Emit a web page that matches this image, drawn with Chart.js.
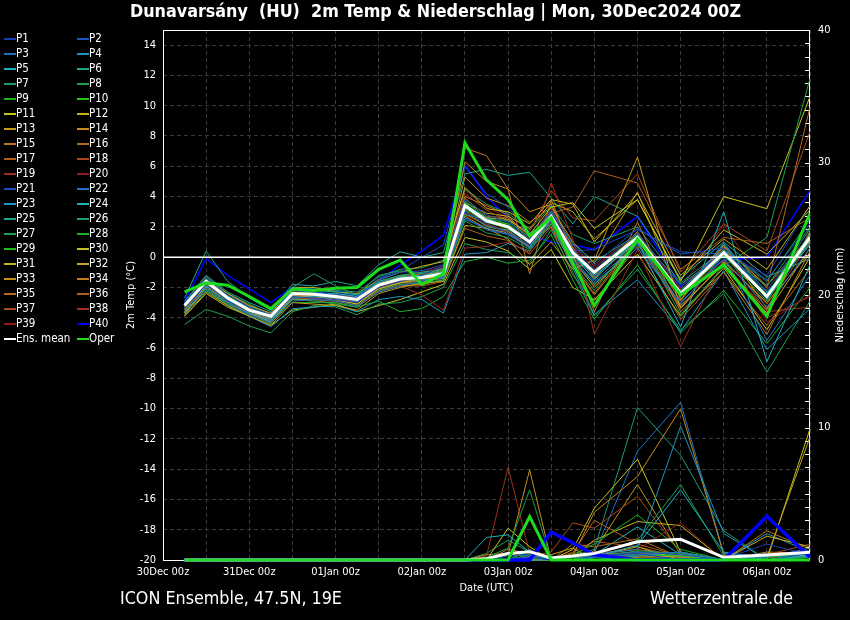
<!DOCTYPE html>
<html>
<head>
<meta charset="utf-8">
<style>
  html, body { margin: 0; background: #000; }
  canvas { display: block; }
</style>
<script src="https://cdn.jsdelivr.net/npm/chart.js@4.4.1/dist/chart.umd.min.js"></script>
</head>
<body>
<canvas id="chart" width="850" height="620"></canvas>
<script>
// forecast hours after 30Dec2024 00z
const hours = [6,12,18,24,30,36,42,48,54,60,66,72,78,84,90,96,102,108,114,120,132,144,156,168,180];
const dayLabels = ['30Dec 00z','31Dec 00z','01Jan 00z','02Jan 00z','03Jan 00z','04Jan 00z','05Jan 00z','06Jan 00z'];

// 2m temperature (°C), P1..P40
const memberTemp = [
  [-3.4,-1.8,-2.9,-3.6,-4.0,-2.6,-2.7,-2.8,-3.0,-2.0,-1.6,-1.2,-0.6, 3.0,2.2,1.6,0.8,2.9,0.5,-0.8,1.6,-2.0,0.4,-2.2,1.8],
  [-3.0,-1.4,-2.5,-3.3,-3.8,-2.2,-2.3,-2.5,-2.7,-1.5,-1.0,-0.9,-0.5, 3.8,2.8,2.3,1.2,3.1,0.8,-0.5,1.9,0.2,0.6,-1.5,2.2],
  [-3.6,-2.0,-3.0,-3.8,-4.3,-2.9,-2.8,-2.9,-3.2,-2.3,-1.9,-1.6,-1.3, 2.6,1.8,1.5,0.6,2.4,-0.2,-1.6,0.9,-3.0,-0.1,-3.3,0.6],
  [-3.3,-1.9,-2.8,-3.7,-4.2,-2.7,-2.6,-2.7,-2.9,-1.9,-1.5,-1.5,-1.4, 3.3,2.3,2.1,1.1,2.8,0.3,-1.3,1.2,-2.6,0.9,-2.8,1.0],
  [-3.1,-1.5,-2.6,-3.4,-4.1,-2.5,-2.4,-2.4,-2.6,-1.7,-1.3,-1.2,-1.0, 3.5,2.6,1.9,0.9,2.6,0.1,-1.2,1.0,-4.6,3.0,-6.9,-0.5],
  [-2.7,0.4,-1.6,-2.7,-3.5,-2.0,-2.2,-2.3,-2.5,-1.6,-1.2,-1.0,-0.8, 3.1,2.0,1.8,0.7,2.5,0.0,-1.8,0.8,-2.2,0.5,-2.4,1.5],
  [-3.8,-2.2,-3.1,-3.8,-4.4,-2.0,-1.1,-1.9,-2.5,-1.2,-0.9,-1.1,-0.9, 2.8,2.5,2.4,1.3,3.0,0.9,-0.3,1.5,-1.8,0.2,-1.9,2.0],
  [-3.5,-2.1,-3.0,-3.5,-4.0,-2.8,-2.9,-3.1,-3.3,-2.2,-1.8,-1.7,-1.5, 2.4,1.6,1.3,0.5,2.2,-0.4,-2.2,1.4,-3.8,-0.6,1.3,11.8],
  [-3.0,-1.6,-2.6,-3.3,-3.9,-2.3,-2.5,-2.6,-2.9,-1.8,-1.4,-1.3,-1.2, 3.6,2.4,2.2,1.0,2.7,0.4,-1.0,1.3,-2.4,0.3,-2.7,1.2],
  [-3.2,-1.7,-2.7,-3.5,-4.0,-2.4,-2.3,-2.7,-2.8,-1.9,-1.5,-1.4,-1.1, 3.2,2.3,1.9,1.0,2.6,0.2,-1.1,1.2,-2.6,0.1,-2.9,1.1],
  [-3.7,-1.9,-2.9,-3.6,-4.3,-2.6,-2.6,-2.8,-3.1,-2.1,-1.7,-1.4,-1.3, 3.4,2.6,2.5,1.5,3.3,3.6,1.9,3.8,-1.6,4.0,3.2,10.6],
  [-3.3,-1.5,-2.4,-3.2,-3.7,-2.0,-2.0,-2.3,-2.4,-1.5,-1.0,-0.6,-0.3, 4.6,3.2,3.0,2.2,3.8,3.5,1.0,4.2,-1.2,1.2,-0.8,3.4],
  [-3.9,-2.3,-3.2,-3.9,-4.5,-3.0,-3.1,-3.2,-3.5,-2.4,-2.0,-1.7,-1.6, 2.1,1.9,1.2,-0.5,1.0,-0.8,-0.2,6.6,-3.4,-0.3,-3.0,0.3],
  [-3.5,-1.7,-2.8,-3.6,-4.1,-2.4,-2.5,-2.7,-2.9,-1.8,-1.5,-1.3,-0.9, 6.3,5.0,4.5,3.0,3.5,0.6,-1.4,1.7,-2.9,0.8,-3.4,1.6],
  [-3.8,-2.0,-3.0,-3.7,-4.4,-2.7,-2.7,-2.8,-3.1,-2.0,-1.6,-1.5,-1.2, 7.2,6.7,4.5,-1.1,3.8,0.2,-3.6,2.3,-3.6,-1.0,-5.1,0.4],
  [-3.4,-1.8,-2.7,-3.4,-4.0,-2.5,-2.6,-2.6,-2.8,-2.0,-1.7,-1.6,-1.4, 2.9,2.1,1.7,0.6,2.3,-0.6,-2.5,1.1,-2.2,0.7,-2.0,9.9],
  [-3.6,-1.9,-2.9,-3.7,-4.2,-2.6,-2.5,-2.5,-2.7,-1.9,-1.4,-1.3,-1.0, 3.9,2.7,2.6,1.4,2.9,3.3,5.7,4.9,-0.8,1.3,0.9,2.6],
  [-3.2,-1.4,-2.5,-3.3,-3.8,-2.3,-2.4,-2.5,-2.7,-1.7,-1.3,-1.1,-0.7, 4.2,3.1,2.4,1.7,4.4,2.6,2.4,5.5,-1.0,2.2,0.4,8.3],
  [-3.5,-1.7,-2.8,-3.5,-4.1,-2.6,-2.8,-2.9,-3.0,-2.2,-1.9,-2.5,-3.5, 0.6,0.7,1.0,0.3,4.9,1.2,-5.1,0.5,-5.9,-0.2,-4.0,-2.6],
  [-3.3,-1.6,-2.6,-3.6,-4.0,-2.4,-2.6,-2.7,-2.8,-2.0,-1.6,-1.4,-1.2, 3.0,2.4,1.8,1.2,3.2,0.7,-0.6,1.6,-2.0,0.6,-4.3,-2.5],
  [-3.1,-1.5,-2.5,-3.3,-3.7,-2.2,-2.3,-2.4,-2.6,-1.4,-0.9,0.0,0.8, 6.0,4.2,3.3,1.6,2.4,0.4,0.5,1.8,0.35,0.2,-1.2,3.4],
  [-3.4,-1.9,-2.8,-3.6,-4.2,-2.7,-2.7,-2.8,-3.0,-2.1,-1.7,-1.6,-1.3, 2.5,1.9,1.5,0.7,2.5,-0.3,-1.7,0.6,-3.1,0.1,-5.5,-1.2],
  [-3.6,-2.2,-3.2,-3.9,-4.6,-3.4,-3.3,-3.2,-3.6,-2.8,-2.6,-2.8,-3.7, 0.2,0.3,0.9,0.4,2.2,-0.7,-3.8,-1.5,-4.9,-0.9,-6.1,-3.4],
  [-3.2,-1.6,-2.7,-3.5,-3.9,-2.5,-2.4,-2.6,-2.9,-1.9,-1.5,-1.3,-1.0, 3.3,2.5,2.0,1.0,2.9,0.2,-1.5,1.4,-2.5,0.9,-2.3,0.8],
  [-2.9,-1.2,-2.3,-3.0,-3.6,-1.8,-1.9,-1.6,-1.9,-0.5,0.35,0.0,0.3, 5.5,5.8,5.4,5.6,3.9,2.2,4.0,2.7,-1.4,1.0,-1.3,-0.1],
  [-3.0,-1.3,-2.4,-3.1,-3.8,-2.1,-2.1,-2.2,-2.3,-1.3,-0.8,-0.7,-0.2, 4.5,3.5,2.9,1.8,3.4,1.5,0.9,2.0,-1.7,0.5,-1.6,2.5],
  [-4.45,-3.45,-3.9,-4.55,-5.0,-3.6,-3.2,-3.3,-3.8,-3.1,-3.0,-2.6,-2.0, 0.9,0.5,0.3,-0.4,1.8,-1.0,-3.9,-0.8,-4.8,-2.4,-7.6,-2.9],
  [-3.7,-2.0,-3.1,-3.8,-4.3,-3.0,-3.0,-3.0,-3.3,-2.9,-3.6,-3.4,-2.6, -0.3,0.0,-0.4,-0.2,1.5,-1.5,-4.1,-0.5,-5.0,-2.2,-5.7,-2.0],
  [-3.1,-1.5,-2.6,-3.4,-3.9,-2.3,-2.4,-2.5,-2.7,-1.6,-1.2,-1.2,-1.0, 3.7,2.6,2.2,1.1,2.8,0.5,-0.9,1.5,-2.3,0.4,-2.5,1.9],
  [-3.9,-2.4,-3.3,-3.9,-4.5,-3.5,-3.3,-3.1,-3.6,-3.2,-2.8,-2.3,-1.8, 1.3,1.0,0.4,-0.8,0.5,-2.0,-2.8,0.2,-3.9,-0.7,-4.8,0.0],
  [-3.4,-1.8,-2.8,-3.5,-4.0,-2.5,-2.4,-2.6,-2.8,-1.8,-1.3,-1.1,-0.8, 3.6,2.9,2.7,1.9,3.6,3.0,1.2,3.8,-1.5,1.8,0.2,3.1],
  [-3.6,-2.0,-3.0,-3.7,-4.3,-2.8,-2.8,-2.9,-3.2,-2.2,-1.9,-1.8,-1.5, 2.7,1.9,1.6,0.6,2.6,-0.1,-2.0,1.0,-3.3,-0.4,-3.7,0.6],
  [-3.2,-1.6,-2.6,-3.4,-3.9,-2.4,-2.5,-2.7,-2.9,-1.8,-1.4,-1.2,-0.9, 5.3,3.9,3.4,2.3,3.3,1.0,-0.4,4.3,-2.8,0.7,-1.9,1.4],
  [-3.5,-1.8,-2.8,-3.6,-4.1,-2.6,-2.7,-2.8,-3.0,-2.0,-1.7,-1.5,-1.2, 4.0,3.4,2.8,1.0,2.0,-0.5,-2.4,1.3,-3.2,-0.5,-3.5,1.7],
  [-3.3,-1.7,-2.7,-3.5,-4.0,-2.5,-2.5,-2.6,-2.8,-1.9,-1.5,-1.3,-1.0, 3.4,2.5,2.1,0.9,2.7,0.4,-1.1,1.2,-2.6,0.2,-2.6,1.0],
  [-3.7,-2.1,-3.1,-3.8,-4.3,-2.8,-2.9,-3.0,-3.3,-2.3,-1.9,-1.9,-1.6, 1.9,1.4,1.1,0.2,2.0,-1.2,-2.9,0.7,-4.1,-1.0,-4.5,-0.8],
  [-3.3,-1.5,-2.6,-3.4,-4.0,-2.4,-2.6,-2.7,-2.9,-2.0,-1.6,-1.4,-1.1, 3.1,2.2,1.7,0.8,2.6,0.0,-1.4,1.1,-2.5,-0.2,-3.1,0.9],
  [-3.4,-1.7,-2.7,-3.6,-4.1,-2.6,-2.7,-2.8,-3.0,-2.1,-1.8,-1.6,-1.4, 2.8,2.1,1.6,0.7,2.4,-0.3,-1.9,0.9,-3.4,0.3,-3.6,-3.3],
  [-3.0,-1.3,-2.4,-3.2,-3.8,-2.2,-2.4,-2.5,-2.6,-1.7,-1.2,-1.0,-0.6, 4.4,3.3,2.6,1.3,3.0,0.6,-0.7,1.5,-2.1,2.15,-2.1,1.2],
  [-2.9,-0.1,-1.2,-2.1,-3.0,-2.0,-2.1,-2.2,-2.5,-1.6,-0.5,0.4,1.45, 6.1,4.0,2.6,1.5,1.0,0.8,0.5,2.7,-1.9,-0.2,0.0,4.4]
];
const meanTemp = [-3.2,-1.6,-2.7,-3.5,-3.9,-2.4,-2.45,-2.6,-2.8,-1.85,-1.45,-1.35,-1.1, 3.4,2.4,2.0,1.0,2.7,0.3,-1.0,1.3,-2.4,0.3,-2.6,1.3];
const operTemp = [-2.3,-1.7,-1.85,-2.6,-3.4,-2.1,-2.2,-2.05,-2.0,-0.8,-0.2,-1.8,-1.1, 7.55,5.1,3.8,1.4,2.6,-0.4,-3.2,1.2,-2.5,-0.5,-3.9,2.9];

// Niederschlag (mm), P1..P40
const memberPrecip = [
  [0,0,0,0,0,0,0,0,0,0,0,0,0, 0,0,0,0.2,0,0,0.3,0.5,0,0.1,1.2,0.4],
  [0,0,0,0,0,0,0,0,0,0,0,0,0, 0,0,0,0.3,0,0,0.2,0.6,0.4,0,0,0.5],
  [0,0,0,0,0,0,0,0,0,0,0,0,0, 0,0,0.3,0.4,0,0,0.2,0.4,0.6,0,0.2,0.9],
  [0,0,0,0,0,0,0,0,0,0,0,0,0, 0,0,0,0,0,0,0.4,0.8,10.1,2.0,0,0.3],
  [0,0,0,0,0,0,0,0,0,0,0,0,0, 0,1.7,1.9,0.6,0,0,0.3,1.1,5.3,0.6,0,0.4],
  [0,0,0,0,0,0,0,0,0,0,0,0,0, 0,0,0,0.8,0,0.2,0,0.3,0.6,0,0.3,0.5],
  [0,0,0,0,0,0,0,0,0,0,0,0,0, 0,0,0,0.3,0,0,0.2,0.7,0.5,0,0,0.2],
  [0,0,0,0,0,0,0,0,0,0,0,0,0, 0,0.2,0.9,5.3,0,0,0.4,1.5,5.7,0.3,0,0.6],
  [0,0,0,0,0,0,0,0,0,0,0,0,0, 0,0,0,0.4,0,0.4,1.2,3.4,0.8,0,0.2,0.5],
  [0,0,0,0,0,0,0,0,0,0,0,0,0, 0,0,0,0,0,0,0.2,0.4,0.3,0,0,0.3],
  [0,0,0,0,0,0,0,0,0,0,0,0,0, 0,0,2.4,1.0,0,0.8,3.9,7.6,0.6,0,0,0.4],
  [0,0,0,0,0,0,0,0,0,0,0,0,0, 0,0,0,0,0,0,0.3,1.0,0,0,1.8,1.0],
  [0,0,0,0,0,0,0,0,0,0,0,0,0, 0,0,0,0,0.4,0.9,0,0.2,0.3,0,0.2,9.3],
  [0,0,0,0,0,0,0,0,0,0,0,0,0, 0,0,0,0.2,0,0.3,3.6,6.3,11.4,0.4,0,0.3],
  [0,0,0,0,0,0,0,0,0,0,0,0,0, 0,0.4,0.5,0.2,0,0,0.3,0.5,0.2,0,2.2,0.8],
  [0,0,0,0,0,0,0,0,0,0,0,0,0, 0,0,0,0,0,1.2,1.0,1.6,0.2,0,0,0.4],
  [0,0,0,0,0,0,0,0,0,0,0,0,0, 0,0,0,0,0,0.5,3.0,1.2,0.3,0,0.2,0.6],
  [0,0,0,0,0,0,0,0,0,0,0,0,0, 0,0,0,0.3,0.6,2.8,2.4,4.8,0.5,0,0.4,1.2],
  [0,0,0,0,0,0,0,0,0,0,0,0,0, 0,0.3,7.0,0.5,0,0,0.2,0.3,0,0,0,0.2],
  [0,0,0,0,0,0,0,0,0,0,0,0,0, 0,0,0,0,0,0.2,0.5,0.8,2.8,0,0,0.3],
  [0,0,0,0,0,0,0,0,0,0,0,0,0, 0,0,0.6,0.3,0.3,0,0,0.4,0.2,0,0.5,0.2],
  [0,0,0,0,0,0,0,0,0,0,0,0,0, 0,0,0,0,0,0,0.5,8.2,11.9,0.5,0.3,0.2],
  [0,0,0,0,0,0,0,0,0,0,0,0,0, 0,0,0,0,0,0,0.2,0.3,0.1,0,2.0,0.6],
  [0,0,0,0,0,0,0,0,0,0,0,0,0, 0,0,0,0.2,0,0,0.4,2.5,0.4,0,0,0.3],
  [0,0,0,0,0,0,0,0,0,0,0,0,0, 0,0,0,0,0,0,0,0.4,0.3,0,0.3,0.2],
  [0,0,0,0,0,0,0,0,0,0,0,0,0, 0,0,0,0,0,0.3,0.8,11.5,7.9,2.2,0,0.4],
  [0,0,0,0,0,0,0,0,0,0,0,0,0, 0,0.5,1.5,0.6,0,0,0.3,0.6,0.4,0,0,0.3],
  [0,0,0,0,0,0,0,0,0,0,0,0,0, 0,0,0,0.7,0,0,0.2,0.5,0.3,0,0.4,0.2],
  [0,0,0,0,0,0,0,0,0,0,0,0,0, 0,0,0,0,0,0,0.3,0.6,0.4,0,0,0.3],
  [0,0,0,0,0,0,0,0,0,0,0,0,0, 0,0,0,0,0,0,0.2,0.4,0,0,0,9.9],
  [0,0,0,0,0,0,0,0,0,0,0,0,0, 0,0,0,0.3,0,0.2,1.5,2.9,2.6,0,0.3,0.5],
  [0,0,0,0,0,0,0,0,0,0,0,0,0, 0,0,0,0,0,0,0.3,0.5,0.2,0,0,0.4],
  [0,0,0,0,0,0,0,0,0,0,0,0,0, 0,0,0.4,6.8,0,0,0.7,5.7,0.4,0,0.6,0.5],
  [0,0,0,0,0,0,0,0,0,0,0,0,0, 0,0,0.8,0.5,0,0,0.4,0.6,0.3,0,0,0.3],
  [0,0,0,0,0,0,0,0,0,0,0,0,0, 0,0,0,0.3,0,0,0.2,0.6,0.2,0,0.2,0.3],
  [0,0,0,0,0,0,0,0,0,0,0,0,0, 0,0,0,0,0,0,0.5,0.8,0.3,0,0,0.4],
  [0,0,0,0,0,0,0,0,0,0,0,0,0, 0,0,0,0.2,0,0.6,1.4,1.0,0.2,0,0,0.3],
  [0,0,0,0,0,0,0,0,0,0,0,0,0, 0,0,0,0,0,0,0.3,0.4,0,0,0.2,0.3],
  [0,0,0,0,0,0,0,0,0,0,0,0,0, 0,0,0,0,0,0,0.2,0.5,0.2,0,0,0.5],
  [0,0,0,0,0,0,0,0,0,0,0,0,0, 0,0,0,0,2.1,1.3,0.4,0,0,0,3.3,0.2]
];
const meanPrecip = [0,0,0,0,0,0,0,0,0,0,0,0,0, 0,0.1,0.5,0.63,0.15,0.3,0.5,1.38,1.56,0.2,0.38,0.58];
const operPrecip = [0,0,0,0,0,0,0,0,0,0,0,0,0, 0,0,0,3.27,0,0,0,0,0,0,0,0];

const memberColors = [
  '#1c3cb4','#1c54c0','#1c70c0','#1c94bc','#1cb0c0','#1ca88c','#1c9c68','#1ca04c','#1cb41c','#24c81c',
  '#c4c41c','#c4b01c','#c49c1c','#c48c1c','#bc7820','#b46c1c','#b0601c','#a8481c','#9c301c','#8c1c1c',
  '#1c4cc4','#1c74c4','#1c98c4','#1cb0bc','#1ca88c','#1c9c70','#1ca050','#1cb02c','#1cbc1c','#c4c41c',
  '#c4b41c','#c4a01c','#c4901c','#c07c1c','#b46c1c','#b0601c','#a84c1c','#a0341c','#8c1c1c','#0000ff'
];
const operColor = '#1ddc1d';
const meanColor = '#ffffff';

// pick the condensed DejaVu if it is there
function hasFont(name) {
  const c = document.createElement('canvas').getContext('2d');
  const s = 'abcdefghijklmnopqrstuvwxyz0123456789';
  c.font = '40px monospace';
  const w1 = c.measureText(s).width;
  c.font = '40px "' + name + '", monospace';
  return c.measureText(s).width !== w1;
}
const condensed = hasFont('DejaVu Sans Condensed');
const fam = condensed ? '"DejaVu Sans Condensed", "DejaVu Sans", sans-serif' : '"DejaVu Sans", sans-serif';
const fs = condensed ? 11 : 10;

Chart.defaults.font.family = fam;
Chart.defaults.color = '#ffffff';

function pts(vals) {
  return hours.map((h, i) => ({x: h, y: vals[i]}));
}

// precipitation lines sit on the bottom frame, so they are not clipped
const datasets = [];
datasets.push({label: 'Oper', data: pts(operTemp), yAxisID: 'y', borderColor: operColor, borderWidth: 3, order: 0});
datasets.push({label: 'Oper RR', data: pts(operPrecip), yAxisID: 'y1', borderColor: operColor, borderWidth: 3, order: 0, clip: false});
datasets.push({label: 'Ens. mean', data: pts(meanTemp), yAxisID: 'y', borderColor: meanColor, borderWidth: 3, order: 1});
datasets.push({label: 'Ens. mean RR', data: pts(meanPrecip), yAxisID: 'y1', borderColor: meanColor, borderWidth: 3, order: 1, clip: false});
for (let i = 0; i < memberTemp.length; i++) {
  const last = i === memberTemp.length - 1;
  datasets.push({label: 'P' + (i + 1), data: pts(memberTemp[i]), yAxisID: 'y',
    borderColor: memberColors[i], borderWidth: last ? 1.6 : 1, order: 3});
  datasets.push({label: 'P' + (i + 1) + ' RR', data: pts(memberPrecip[i]), yAxisID: 'y1',
    borderColor: memberColors[i], borderWidth: last ? 3.5 : 1, order: last ? 2 : 3, clip: false});
}

// fit text to a measured width
function fitFont(ctx, text, weight, target) {
  ctx.font = weight + ' 20px ' + fam;
  const w = ctx.measureText(text).width;
  return weight + ' ' + (20 * target / w).toFixed(2) + 'px ' + fam;
}

const decor = {
  id: 'decor',
  beforeDatasetsDraw(chart) {
    const {ctx, chartArea: a, scales} = chart;
    ctx.save();
    ctx.strokeStyle = '#ffffff';
    ctx.lineWidth = 1;
    ctx.strokeRect(a.left + 0.5, a.top + 0.5, a.right - a.left - 1, a.bottom - a.top);
    // inward ticks of the precipitation axis
    ctx.beginPath();
    for (let v = 0; v <= 40; v++) {
      const y = Math.round(scales.y1.getPixelForValue(v)) + 0.5;
      ctx.moveTo(a.right - 5, y);
      ctx.lineTo(a.right, y);
    }
    ctx.stroke();
    ctx.restore();
  },
  afterDatasetsDraw(chart) {
    const {ctx, chartArea: a, scales} = chart;
    const y0 = scales.y.getPixelForValue(0);
    ctx.save();
    ctx.strokeStyle = '#ffffff';
    ctx.lineWidth = 1.5;
    ctx.beginPath();
    ctx.moveTo(a.left, y0);
    ctx.lineTo(a.right, y0);
    ctx.stroke();
    ctx.restore();
  },
  afterDraw(chart) {
    const ctx = chart.ctx;
    ctx.save();
    ctx.fillStyle = '#ffffff';
    ctx.textBaseline = 'middle';

    const title = 'Dunavarsány  (HU)  2m Temp & Niederschlag | Mon, 30Dec2024 00Z';
    ctx.font = fitFont(ctx, title, 'bold', 611);
    ctx.textAlign = 'center';
    ctx.fillText(title, 435.5, 12);

    const left = 'ICON Ensemble, 47.5N, 19E';
    ctx.font = fitFont(ctx, left, 'normal', 222);
    ctx.textAlign = 'left';
    ctx.fillText(left, 120, 599);
    const right = 'Wetterzentrale.de';
    ctx.font = fitFont(ctx, right, 'normal', 143);
    ctx.textAlign = 'right';
    ctx.fillText(right, 793, 599);

    // right axis title, reading upwards
    ctx.font = fs + 'px ' + fam;
    ctx.save();
    ctx.translate(840, 295);
    ctx.rotate(-Math.PI / 2);
    ctx.textAlign = 'center';
    ctx.fillText('Niederschlag (mm)', 0, 0);
    ctx.restore();

    // legend, two columns
    const names = memberTemp.map((_, i) => 'P' + (i + 1)).concat(['Ens. mean', 'Oper']);
    const cols = memberColors.concat([meanColor, operColor]);
    ctx.textAlign = 'left';
    ctx.font = (fs + 0.5) + 'px ' + fam;
    names.forEach((n, i) => {
      const x = (i % 2) ? 77 : 4;
      const y = 39 + 15 * Math.floor(i / 2);
      ctx.strokeStyle = cols[i];
      ctx.lineWidth = 2;
      ctx.beginPath();
      ctx.moveTo(x, y);
      ctx.lineTo(x + 12, y);
      ctx.stroke();
      ctx.fillText(n, x + 12, y);
    });
    ctx.restore();
  }
};

const gridCol = '#3a3a3a';

new Chart(document.getElementById('chart'), {
  type: 'line',
  data: {datasets: datasets},
  options: {
    responsive: false,
    animation: false,
    devicePixelRatio: 1,
    layout: {padding: {left: 120, top: 30, right: 0, bottom: 0}},
    elements: {point: {radius: 0}, line: {tension: 0, fill: false}},
    plugins: {legend: {display: false}, tooltip: {enabled: false}},
    scales: {
      x: {
        type: 'linear', min: 0, max: 180,
        afterFit: s => { s.height = 60; },
        ticks: {stepSize: 12, autoSkip: false, maxRotation: 0, padding: 6, font: {size: fs},
          callback: v => (v % 24 === 0 && v < 180) ? dayLabels[v / 24] : ''},
        grid: {color: gridCol, drawTicks: false},
        border: {display: false, dash: [4, 3]},
        title: {display: true, text: 'Date (UTC)', font: {size: fs}, padding: {top: 0, bottom: 25}}
      },
      y: {
        position: 'left', min: -20, max: 15,
        afterFit: s => { s.width = 43; },
        ticks: {stepSize: 2, autoSkip: false, padding: 7, font: {size: fs},
          callback: v => v <= 14 ? v : ''},
        grid: {color: gridCol, drawTicks: false},
        border: {display: false, dash: [4, 3]},
        title: {display: true, text: '2m Temp (°C)', font: {size: fs}, padding: {top: 5, bottom: 0}}
      },
      y1: {
        position: 'right', min: 0, max: 40,
        afterFit: s => { s.width = 40; },
        ticks: {stepSize: 1, autoSkip: false, padding: 8, font: {size: fs},
          callback: v => v % 10 === 0 ? v : ''},
        grid: {drawOnChartArea: false, drawTicks: false},
        border: {display: false}
      }
    }
  },
  plugins: [decor]
});
</script>
</body>
</html>
